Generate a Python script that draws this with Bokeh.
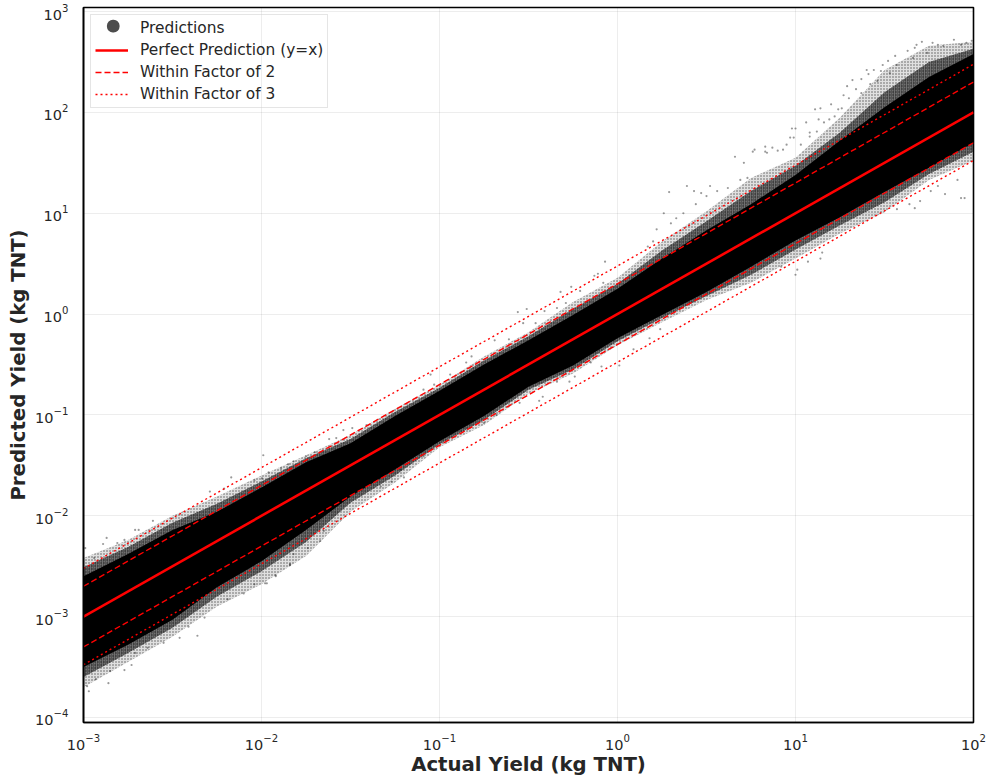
from bokeh.plotting import figure
from bokeh.models import BoxAnnotation, Legend, LegendItem, Range1d
from bokeh.embed import file_html
from bokeh.resources import INLINE

# Envelope of the point cloud (log10 kg TNT)
log_actual = [-3, -2.75, -2.5, -2.25, -2, -1.75, -1.5, -1.25, -1, -0.75, -0.5, -0.25, 0, 0.25, 0.5, 0.75, 1, 1.25, 1.5, 1.75, 2]
core_upper = [-2.60, -2.38, -2.14, -1.96, -1.72, -1.47, -1.28, -1.01, -0.76, -0.50, -0.26, -0.01, 0.25, 0.55, 0.83, 1.09, 1.38, 1.72, 2.05, 2.35, 2.58]
core_lower = [-3.50, -3.28, -3.03, -2.71, -2.45, -2.14, -1.81, -1.54, -1.26, -1.01, -0.72, -0.51, -0.24, -0.01, 0.22, 0.47, 0.73, 0.96, 1.21, 1.45, 1.70]
mid_upper = [-2.51, -2.31, -2.07, -1.88, -1.66, -1.43, -1.24, -0.97, -0.73, -0.46, -0.22, 0.05, 0.30, 0.63, 0.92, 1.22, 1.47, 1.80, 2.20, 2.50, 2.63]
mid_lower = [-3.60, -3.36, -3.11, -2.80, -2.55, -2.26, -1.87, -1.60, -1.29, -1.05, -0.75, -0.55, -0.27, -0.04, 0.18, 0.39, 0.64, 0.88, 1.11, 1.39, 1.61]
fuzz_upper = [-2.42, -2.24, -2.00, -1.81, -1.60, -1.40, -1.20, -0.94, -0.70, -0.42, -0.18, 0.12, 0.36, 0.72, 1.02, 1.35, 1.55, 1.95, 2.42, 2.66, 2.70]
fuzz_lower = [-3.70, -3.45, -3.20, -2.90, -2.68, -2.40, -1.96, -1.67, -1.32, -1.10, -0.79, -0.59, -0.31, -0.08, 0.14, 0.31, 0.55, 0.80, 1.01, 1.33, 1.52]

# Individually visible points at the edge of the cloud (log10 actual, log10 predicted)
scatter_log_actual = [
    1.89, 1.71, 1.77, 1.67, 1.63, 1.56, 1.52, 1.49, 1.44, 1.40, 1.41, 1.32, 1.29, 1.27, 1.26, 1.20, 1.14, 1.11, 1.13, 1.06,
    1.00, 0.98, 1.08, 0.99, 0.97, 0.95, 0.93, 1.03, 1.16, 1.22, 1.37, 1.42, 1.48, 1.57, 1.68, 1.80, 1.83, 1.93, 1.96, 1.99,
    1.74, 1.66, 1.53, 1.46, 1.37, 1.34, 1.30, 1.24, 1.19, 1.12, 1.08, 1.84, 1.93, 1.95, 1.76, 1.70, 1.67, 1.64, 1.57, 1.91, 1.80,
    0.29, 0.22, 0.26, 0.39, 0.43, 0.47, 0.52, 0.66, 0.71, 0.77, 0.76, 0.83, 0.87, 0.83, 0.90, 0.33, 0.30, 0.37, 0.44, 0.50, 0.56,
    0.20, 0.17, 1.14, 1.15, 1.00, 1.01, 1.07, 0.92, 0.84, 0.69, 0.73, 0.62,
    -0.56, -0.51, -0.69, -0.82, -0.85, -0.94, -1.05, -1.03, -1.09, -0.32, -0.26, -0.41, -0.34, -0.29, -0.21, -0.13, -0.11, -0.07,
    -0.08, -0.53, -0.61, -0.46, 0.01, -0.09, -0.15, -0.24, -0.27, -0.34, -0.42, -0.44, -0.55, -0.68, -0.75, 0.24, 0.18, 0.09,
    -1.99, -2.17, -2.21, -2.29, -2.04, -1.997, -1.96, -1.89, -1.85, -1.82, -1.75, -1.70, -1.62, -1.58, -1.54, -1.49, -1.41,
    -1.92, -1.98, -1.84, -1.67, -1.65, -1.33, -1.20, -1.27, -1.22, -1.05, -1.09, -2.04, -1.82, -1.74,
    -2.87, -2.89, -2.94, -2.99, -2.81, -2.77, -2.71, -2.69, -2.61,
    -2.97, -2.98, -2.86, -2.93, -2.85, -2.73, -2.77, -2.71, -2.64, -2.55, -2.46, -2.36, -2.41, -2.32, -2.19, -2.10, -1.97, -1.92, -1.84,
]
scatter_log_pred = [
    2.72, 2.70, 2.69, 2.64, 2.61, 2.56, 2.51, 2.47, 2.42, 2.42, 2.38, 2.32, 2.26, 2.17, 2.04, 2.08, 2.04, 2.03, 1.93, 1.90,
    1.84, 1.84, 1.80, 1.75, 1.75, 1.68, 1.63, 1.68, 1.90, 1.96, 2.33, 2.28, 2.41, 2.47, 2.67, 2.67, 2.66, 2.67, 2.69, 2.71,
    2.59, 2.54, 2.39, 2.31, 2.19, 2.23, 2.14, 2.03, 1.93, 1.81, 1.76, 1.19, 1.15, 1.15, 1.22, 1.12, 1.05, 1.09, 1.04, 1.33, 1.27,
    1.21, 0.84, 1.00, 1.27, 1.22, 1.20, 1.27, 1.56, 1.50, 1.63, 1.61, 1.66, 1.65, 1.61, 1.62, 0.95, 0.90, 1.00, 1.09, 1.17, 1.22,
    0.72, 0.67, 0.55, 0.61, 0.39, 0.44, 0.52, 0.47, 1.60, 1.33, 1.35, 1.25,
    0.02, 0.05, -0.26, -0.42, -0.48, -0.60, -0.60, -0.70, -0.75, 0.22, 0.27, 0.03, 0.06, 0.11, 0.23, 0.38, 0.40, 0.52,
    0.31, -0.09, -0.25, -0.09, -0.51, -0.52, -0.48, -0.62, -0.67, -0.67, -0.82, -0.86, -0.88, -1.00, -1.08, -0.15, -0.24, -0.35,
    -1.40, -1.62, -1.73, -1.76, -1.65, -1.63, -1.57, -1.53, -1.49, -1.46, -1.41, -1.37, -1.24, -1.23, -1.15, -1.13, -1.10,
    -2.59, -2.67, -2.49, -2.25, -2.15, -1.71, -1.62, -1.66, -1.54, -1.31, -1.41, -2.68, -2.38, -2.32,
    -2.22, -2.28, -2.42, -2.32, -2.27, -2.24, -2.14, -2.14, -2.05,
    -3.74, -3.69, -3.66, -3.62, -3.54, -3.48, -3.53, -3.36, -3.31, -3.26, -3.21, -3.19, -3.10, -3.01, -2.83, -2.77, -2.67, -2.60, -2.48,
]

line_x = [1e-3, 1e2]
perfect = list(line_x)
factor2_up = [v * 2 for v in line_x]
factor2_dn = [v / 2 for v in line_x]
factor3_up = [v * 3 for v in line_x]
factor3_dn = [v / 3 for v in line_x]

FONT = "DejaVu Sans"
INK = "#262626"


def pow10(values):
    return [10.0 ** v for v in values]


p = figure(
    width=987, height=778, x_axis_type="log", y_axis_type="log",
    x_range=Range1d(1e-3, 1e2), y_range=Range1d(10 ** -4.05, 10 ** 3.04),
    output_backend="svg", toolbar_location=None, tools="",
    min_border_left=83, min_border_right=14, min_border_top=7, min_border_bottom=55,
    background_fill_color="white", border_fill_color="white",
)
p.outline_line_color = "black"
p.outline_line_width = 1.6
p.grid.grid_line_color = "#000000"
p.grid.grid_line_alpha = 0.07
p.grid.grid_line_width = 1

for ax, label in ((p.xaxis[0], "Actual Yield (kg TNT)"), (p.yaxis[0], "Predicted Yield (kg TNT)")):
    ax.axis_label = label
    ax.axis_label_text_font = FONT
    ax.axis_label_text_font_style = "bold"
    ax.axis_label_text_font_size = "19.7px"
    ax.axis_label_text_color = INK
    ax.major_label_text_font = FONT
    ax.major_label_text_font_size = "14.5px"
    ax.major_label_text_color = INK
    ax.major_tick_line_color = None
    ax.minor_tick_line_color = None
    ax.axis_line_color = "black"
    ax.axis_line_width = 1.6
    ax.major_label_standoff = 5
p.yaxis[0].major_label_standoff = 9
p.xaxis[0].axis_label_standoff = 0
p.yaxis[0].axis_label_standoff = 2

x_env = pow10(log_actual)
p.varea(x=x_env, y1=pow10(fuzz_lower), y2=pow10(fuzz_upper), color="black", fill_alpha=0.12,
        hatch_pattern="dot", hatch_color="black", hatch_alpha=0.6, hatch_scale=3, hatch_weight=1)
p.varea(x=x_env, y1=pow10(mid_lower), y2=pow10(mid_upper), color="black", fill_alpha=0.5,
        hatch_pattern="vertical_line", hatch_color="black", hatch_alpha=0.5, hatch_scale=2, hatch_weight=1)
p.varea(x=x_env, y1=pow10(core_lower), y2=pow10(core_upper), color="black", fill_alpha=1.0)
p.scatter(pow10(scatter_log_actual), pow10(scatter_log_pred), size=2.2, color="black", alpha=0.4, line_width=0)

r_perfect = p.line(line_x, perfect, line_color="red", line_width=2.6)
r_f2 = p.line(line_x, factor2_up, line_color="red", line_width=1.4, line_dash="6 3")
p.line(line_x, factor2_dn, line_color="red", line_width=1.4, line_dash="6 3")
r_f3 = p.line(line_x, factor3_up, line_color="red", line_width=1.4, line_dash="2 3")
p.line(line_x, factor3_dn, line_color="red", line_width=1.4, line_dash="2 3")
# The legend's first entry has an empty key area: its large round marker is added below
r_pred_key = p.line([], [], line_color=None)

legend = Legend(
    items=[
        LegendItem(label="Predictions", renderers=[r_pred_key]),
        LegendItem(label="Perfect Prediction (y=x)", renderers=[r_perfect]),
        LegendItem(label="Within Factor of 2", renderers=[r_f2]),
        LegendItem(label="Within Factor of 3", renderers=[r_f3]),
    ],
    location="top_left",
    label_text_font=FONT, label_text_font_size="15.4px", label_text_color=INK,
    glyph_width=33, glyph_height=18, label_height=18, label_standoff=12,
    spacing=4, padding=4, margin=7,
    border_line_color="#cccccc", border_line_width=1, background_fill_alpha=0,
)
p.add_layout(legend)
# Screen units here count from the plot frame's lower-left corner
p.add_layout(BoxAnnotation(
    left=23.4, right=36.1, bottom=690, top=702.7, level="overlay",
    left_units="screen", right_units="screen", top_units="screen", bottom_units="screen",
    fill_color="#4d4d4d", fill_alpha=1, line_color=None, border_radius=6,
))

html = file_html(p, INLINE)
html = html.replace("<body>", '<body style="margin:0;overflow:hidden">', 1)
open("out.html", "w").write(html)
